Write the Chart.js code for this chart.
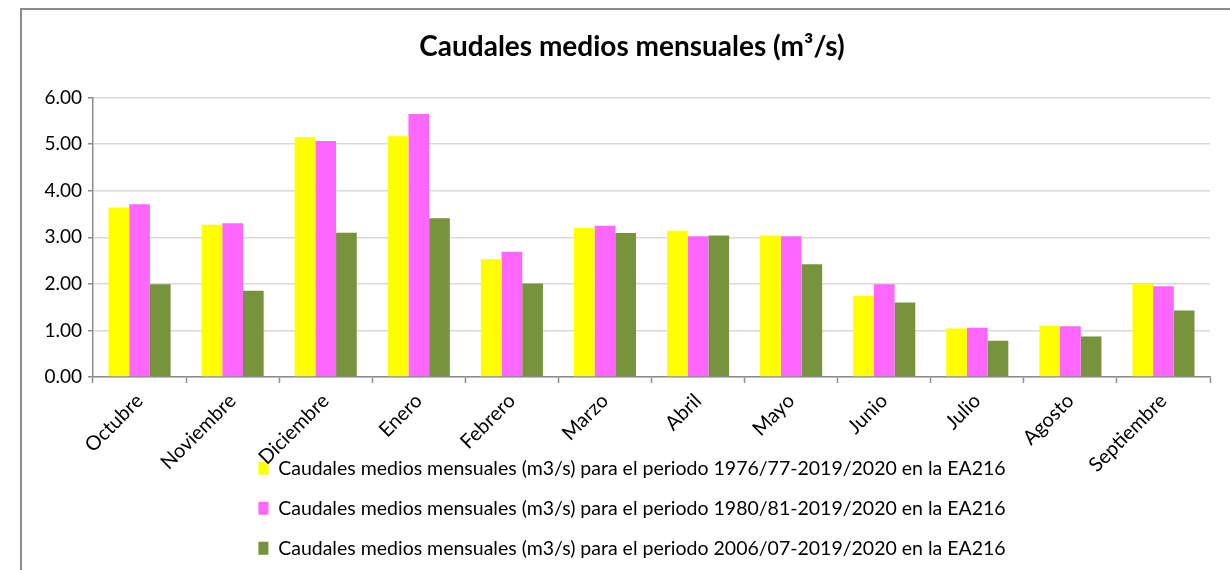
<!DOCTYPE html>
<html>
<head>
<meta charset="utf-8">
<script src="https://cdn.jsdelivr.net/npm/chart.js@4/dist/chart.umd.min.js"></script>
<style>
  html, body { margin: 0; padding: 0; background: #fff; }
  #wrap { position: relative; width: 1230px; height: 570px; overflow: hidden; }
  #frame { position: absolute; left: 20px; top: 8px; width: 1400px; height: 800px; border: 2px solid #8c8c8c; box-sizing: border-box; }
  canvas { position: absolute; left: 0; top: 0; }
</style>
</head>
<body>
<div id="wrap">
  <div id="frame"></div>
  <canvas id="myChart" width="1230" height="570"></canvas>
</div>
<script>
// months of the hydrological year
const meses = ['Octubre', 'Noviembre', 'Diciembre', 'Enero', 'Febrero', 'Marzo', 'Abril', 'Mayo', 'Junio', 'Julio', 'Agosto', 'Septiembre'];

// caudales (m3/s)
const caudal7677 = [3.64, 3.27, 5.15, 5.17, 2.53, 3.20, 3.14, 3.04, 1.74, 1.04, 1.10, 2.01];
const caudal8081 = [3.71, 3.30, 5.07, 5.65, 2.69, 3.25, 3.02, 3.02, 1.99, 1.06, 1.09, 1.95];
const caudal0607 = [1.99, 1.85, 3.10, 3.41, 2.01, 3.09, 3.04, 2.42, 1.60, 0.78, 0.87, 1.43];

const etiquetas = [
    'Caudales medios mensuales (m3/s) para el periodo 1976/77-2019/2020 en la EA216',
    'Caudales medios mensuales (m3/s) para el periodo 1980/81-2019/2020 en la EA216',
    'Caudales medios mensuales (m3/s) para el periodo 2006/07-2019/2020 en la EA216'
];
const yTicks = [0, 1, 2, 3, 4, 5, 6];

const fuente = "Lato, 'Open Sans', sans-serif";
const gris = '#8c8c8c';

// labels overlap the legend like in the excel chart, so widen the clip boxes
const unclipLabels = {
    id: 'unclipLabels',
    afterLayout(chart) {
        chart.scales.x.bottom = chart.height;
        chart.scales.y.left = 0;
    }
};

const ctx = document.getElementById('myChart').getContext('2d');

new Chart(ctx, {
    type: 'bar',
    data: {
        labels: meses,
        datasets: [
            { label: etiquetas[0], data: caudal7677, backgroundColor: '#ffff00' },
            { label: etiquetas[1], data: caudal8081, backgroundColor: '#ff66ff' },
            { label: etiquetas[2], data: caudal0607, backgroundColor: '#77933c' }
        ]
    },
    options: {
        responsive: false,
        animation: false,
        layout: { padding: { left: 54, right: 20, top: 20, bottom: 2 } },
        datasets: {
            bar: { barPercentage: 1, categoryPercentage: 0.667 }
        },
        scales: {
            x: {
                afterFit: (scale) => { scale.height = 61; },
                border: { color: gris, width: 1.5 },
                grid: { drawOnChartArea: false, tickLength: 6, tickColor: gris, tickWidth: 1.5 },
                ticks: {
                    minRotation: 45,
                    maxRotation: 45,
                    autoSkip: false,
                    color: '#000',
                    padding: 6,
                    font: { family: fuente, size: 20 }
                }
            },
            y: {
                min: 0,
                max: 6,
                afterFit: (scale) => { scale.width = 39; },
                afterBuildTicks: (scale) => { scale.ticks = yTicks.map(v => ({ value: v })); },
                border: { color: gris, width: 1.5 },
                grid: { color: '#d9d9d9', lineWidth: 1.5, tickLength: 5, tickColor: gris },
                ticks: {
                    color: '#000',
                    padding: 6,
                    font: { family: fuente, size: 19 },
                    callback: (v) => Number(v).toFixed(2)
                }
            }
        },
        plugins: {
            title: {
                display: true,
                text: 'Caudales medios mensuales (m³/s)',
                color: '#000',
                font: { family: fuente, size: 28, weight: 'bold' },
                padding: { top: 10, bottom: 34 }
            },
            legend: {
                position: 'bottom',
                labels: {
                    color: '#000',
                    boxWidth: 10,
                    boxHeight: 13,
                    padding: 20.5,
                    font: { family: fuente, size: 19.5 }
                }
            },
            tooltip: { enabled: false }
        }
    },
    plugins: [unclipLabels]
});
</script>
</body>
</html>
